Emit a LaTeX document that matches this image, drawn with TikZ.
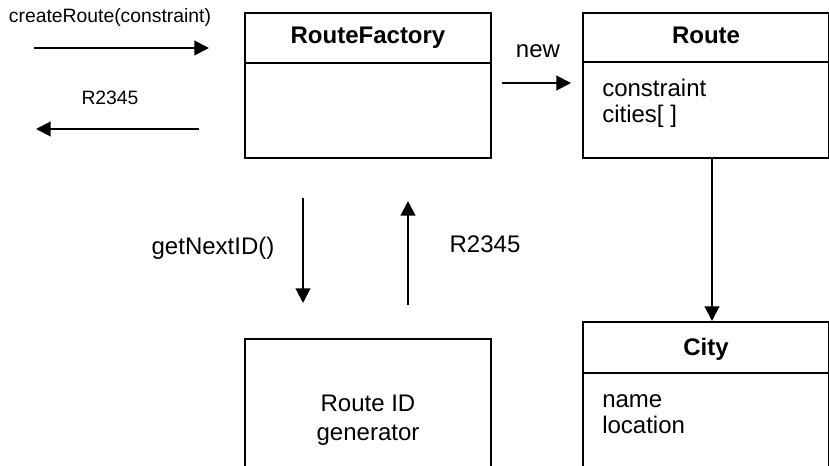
\documentclass[tikz,border=0pt]{standalone}
\usepackage{fontspec}
\setmainfont{Liberation Sans}
\usetikzlibrary{arrows.meta}

\tikzset{
  classbox/.style={draw, line width=1.5pt, minimum width=184.5pt, minimum height=108.75pt, inner sep=0pt},
  msg/.style={line width=1.5pt, -{Triangle[length=11pt,width=11pt]}},
  lbl/.style={inner sep=0pt, font=\fontsize{18}{19.5}\selectfont},
  small/.style={inner sep=0pt, font=\fontsize{14.5}{17}\selectfont},
  head/.style={inner sep=0pt, font=\fontsize{18}{20}\selectfont\bfseries},
}

\begin{document}
\begin{tikzpicture}[x=0.75pt,y=0.75pt,yscale=-1,xscale=1]
  \useasboundingbox (0,0) rectangle (829,466);
  \clip (0,0) rectangle (829,466);

  % class boxes
  \node[classbox] (factory) at (368,85.5) {};
  \node[classbox] (route) at (706,85.5) {};
  \node[classbox] (city) at (706,394.5) {};
  \node[classbox, minimum height=121.5pt, inner sep=0pt, font=\fontsize{18}{21.75}\selectfont, align=center] (idgen) at (368,420) {Route ID\\generator};

  % dividers
  \draw[line width=1.5pt] ([yshift=38.25pt]factory.north west) -- ([yshift=38.25pt]factory.north east);
  \draw[line width=1.5pt] ([yshift=37.5pt]route.north west) -- ([yshift=37.5pt]route.north east);
  \draw[line width=1.5pt] ([yshift=39pt]city.north west) -- ([yshift=39pt]city.north east);

  % headers and attributes
  \node[head, anchor=base] (factoryname) at ([yshift=24pt]factory.north) {RouteFactory};
  \node[head, anchor=base] (routename) at ([yshift=24pt]route.north) {Route};
  \node[head, anchor=base] (cityname) at ([yshift=26pt]city.north) {City};
  \node[lbl, anchor=north west, align=left] (routeattr) at ([xshift=15pt,yshift=50.5pt]route.north west) {constraint\\cities[ ]};
  \node[lbl, anchor=north west, align=left] (cityattr) at ([xshift=15pt,yshift=55pt]city.north west) {name\\location};

  % messages
  \coordinate (callA) at (34,48);
  \coordinate (callB) at (209,48);
  \coordinate (retA) at (199,129);
  \coordinate (retB) at (36,129);
  \coordinate (newA) at (502,83);
  \coordinate (newB) at (571,83);
  \coordinate (nextA) at (303,198);
  \coordinate (nextB) at (303,303);
  \coordinate (idA) at (408,305);
  \coordinate (idB) at (408,201);

  \draw[msg] (callA) -- (callB);
  \draw[msg] (retA) -- (retB);
  \draw[msg] (newA) -- (newB);
  \draw[msg] (nextA) -- (nextB);
  \draw[msg] (idA) -- (idB);
  \draw[msg] ([xshift=4.5pt]route.south) -- ([xshift=4.5pt]city.north);

  \node[small, anchor=base] (calltext) at (110,23) {createRoute(constraint)};
  \node[small, anchor=base] (rettext) at (110,105) {R2345};
  \node[lbl, anchor=base] (newtext) at (538,58) {new};
  \node[lbl, anchor=base] (nexttext) at (213,255) {getNextID()};
  \node[lbl, anchor=base] (idtext) at (485,253) {R2345};
\end{tikzpicture}
\end{document}
